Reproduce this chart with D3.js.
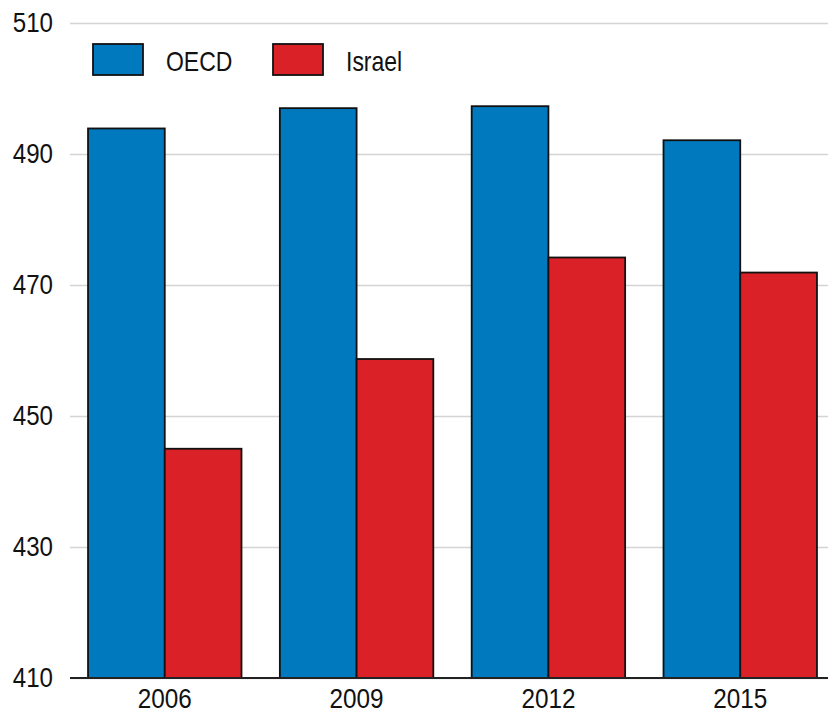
<!DOCTYPE html>
<html><head><meta charset="utf-8">
<script src="https://cdn.jsdelivr.net/npm/d3@7"></script>
<style>
html,body{margin:0;padding:0;background:#fff;}
svg text{font-family:"Liberation Sans",Arial,sans-serif;fill:#111;}
</style></head>
<body>
<svg id="chart" width="828" height="714"></svg>
<script>
const years = ["2006", "2009", "2012", "2015"];
const seriesNames = ["OECD", "Israel"];
const oecdValues = [493.9, 497.0, 497.3, 492.1];
const israelValues = [445.0, 458.7, 474.2, 471.9];
const yTicks = [410, 430, 450, 470, 490, 510];
const colors = ["#0079BF", "#DA2128"];

const svg = d3.select("#chart");
const W = 828, H = 714;
const left = 70;

// condense text horizontally (reference uses a narrow face)
function condense(sel, factor) {
  sel.each(function() {
    const w = this.getComputedTextLength();
    d3.select(this).attr("textLength", w * factor).attr("lengthAdjust", "spacingAndGlyphs");
  });
}

const y = d3.scaleLinear().domain([410, 510]).range([678, 23]);
const x0 = d3.scaleBand().domain(years).range([left, 835]).paddingInner(0.2).paddingOuter(0.094);
const x1 = d3.scaleBand().domain(seriesNames).range([0, x0.bandwidth()]).padding(0);
const color = d3.scaleOrdinal().domain(seriesNames).range(colors);

const rows = years.map((yr, i) => ({year: yr, values: [
  {name: "OECD", value: oecdValues[i]},
  {name: "Israel", value: israelValues[i]}
]}));

// gridlines + y labels
const yAxis = d3.axisLeft(y).tickValues(yTicks).tickSize(-(W - left)).tickPadding(17).tickFormat(d3.format("d"));
const gy = svg.append("g").attr("transform", `translate(${left},0)`).call(yAxis);
gy.select(".domain").remove();
gy.selectAll(".tick line").attr("stroke", "#d4d4d4").attr("stroke-width", 1.5);
gy.selectAll(".tick text").attr("font-size", 28).attr("dy", "0.3em")
  .style("font-family", '"Liberation Sans",Arial,sans-serif').attr("fill", "#111")
  .call(condense, 0.86);

// bars
const groups = svg.append("g").selectAll("g").data(rows).join("g")
  .attr("transform", d => `translate(${x0(d.year)},0)`);
groups.selectAll("rect").data(d => d.values).join("rect")
  .attr("x", d => x1(d.name))
  .attr("width", x1.bandwidth())
  .attr("y", d => y(d.value))
  .attr("height", d => y(410) - y(d.value))
  .attr("fill", d => color(d.name))
  .attr("stroke", "#111")
  .attr("stroke-width", 1.8);

// x axis
const xAxis = d3.axisBottom(x0).tickSize(0).tickPadding(0);
const gx = svg.append("g").attr("transform", `translate(0,${y(410)})`).call(xAxis);
gx.select(".domain").remove();
gx.append("line").attr("x1", left).attr("x2", W).attr("y1", 0).attr("y2", 0)
  .attr("stroke", "#222").attr("stroke-width", 2);
gx.selectAll(".tick text").attr("font-size", 27).attr("y", 30).attr("dy", 0)
  .style("font-family", '"Liberation Sans",Arial,sans-serif').attr("fill", "#111")
  .call(condense, 0.9);

// legend
const legendX = [93, 273];
const lg = svg.append("g").selectAll("g").data(seriesNames).join("g")
  .attr("transform", (d, i) => `translate(${legendX[i]},44)`);
lg.append("rect").attr("width", 50).attr("height", 31)
  .attr("fill", d => color(d)).attr("stroke", "#111").attr("stroke-width", 1.8);
lg.append("text").attr("x", 73).attr("y", 27).attr("font-size", 28)
  .text(d => d).call(condense, 0.82);
</script>
</body></html>
